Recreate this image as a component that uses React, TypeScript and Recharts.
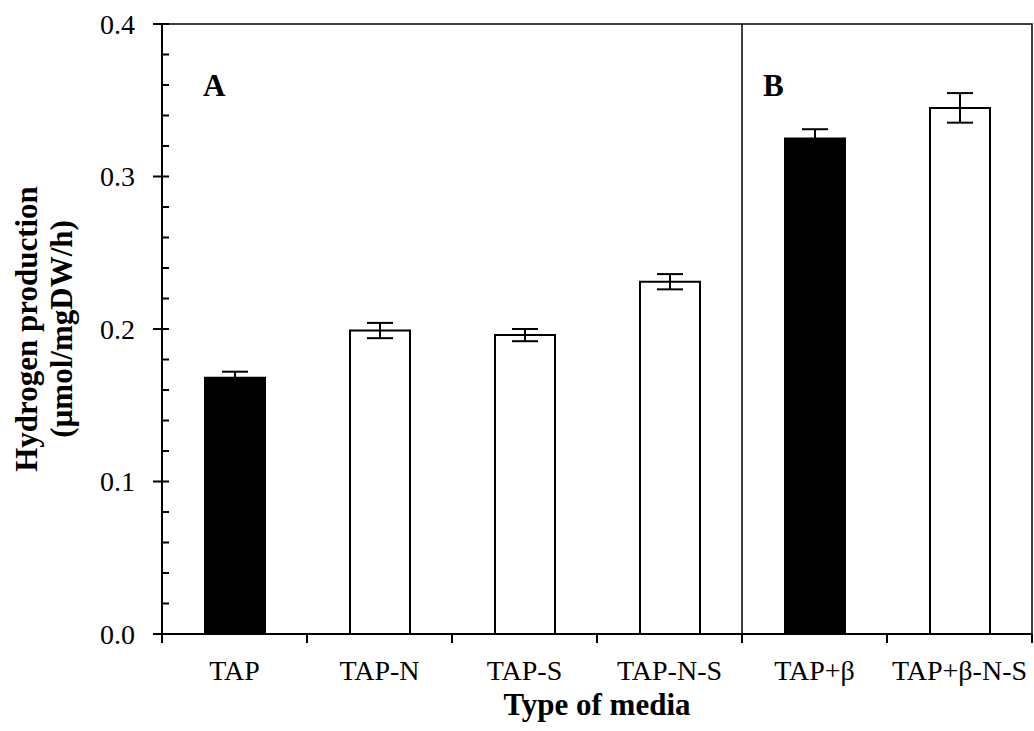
import React from 'react';
import { BarChart, Bar, Cell, XAxis, YAxis, ErrorBar, ReferenceLine, ReferenceArea } from 'recharts';

const categories = ['TAP', 'TAP-N', 'TAP-S', 'TAP-N-S', 'TAP+β', 'TAP+β-N-S'];
const production = [0.168, 0.199, 0.196, 0.231, 0.325, 0.345];
const errors = [0.004, 0.005, 0.004, 0.005, 0.006, 0.0097];
const yTicks = [0, 0.02, 0.04, 0.06, 0.08, 0.1, 0.12, 0.14, 0.16, 0.18, 0.2, 0.22, 0.24, 0.26, 0.28, 0.3, 0.32, 0.34, 0.36, 0.38, 0.4];
const darkBars = ['TAP', 'TAP+β'];

const W = 1034;
const H = 731;
const LEFT = 162;
const RIGHT = 2;
const TOP = 24;
const BOTTOM = 634;
const BAND = (W - LEFT - RIGHT) / categories.length;
const FONT = '"Liberation Serif", "Times New Roman", serif';

const data = categories.map((name, i) => ({ name, value: production[i], err: errors[i] }));

function YTick(props: any) {
  const { y, payload } = props;
  const v = payload.value as number;
  const major = Math.round(v * 100) % 10 === 0;
  return (
    <g>
      <line x1={major ? LEFT - 9 : LEFT} x2={LEFT + 7} y1={y} y2={y} stroke="#000" strokeWidth={2} />
      {major && (
        <text x={LEFT - 27} y={y} dy="0.35em" textAnchor="end" fontFamily={FONT} fontSize={28} fill="#000">
          {v.toFixed(1)}
        </text>
      )}
    </g>
  );
}

function XTick(props: any) {
  const { x, payload, index } = props;
  const last = index === categories.length - 1;
  return (
    <g>
      <line x1={x - BAND / 2} x2={x - BAND / 2} y1={BOTTOM} y2={BOTTOM + 9} stroke="#000" strokeWidth={2} />
      {last && <line x1={x + BAND / 2} x2={x + BAND / 2} y1={BOTTOM} y2={BOTTOM + 9} stroke="#000" strokeWidth={2} />}
      <text x={x} y={680} textAnchor="middle" fontFamily={FONT} fontSize={28} fill="#000">
        {payload.value}
      </text>
    </g>
  );
}

export default function App() {
  return (
    <div style={{ position: 'absolute', left: 0, top: 0, width: W, height: H, background: '#fff' }}>
      <BarChart width={W} height={H} data={data} margin={{ top: TOP, right: RIGHT, bottom: 0, left: 0 }} barCategoryGap={0}>
        <XAxis
          dataKey="name"
          height={H - BOTTOM}
          interval={0}
          tickLine={false}
          axisLine={{ stroke: '#000', strokeWidth: 2 }}
          tick={<XTick />}
        />
        <YAxis
          width={LEFT}
          domain={[0, 0.4]}
          ticks={yTicks}
          interval={0}
          tickLine={false}
          tickSize={0}
          axisLine={{ stroke: '#000', strokeWidth: 2 }}
          tick={<YTick />}
        />
        <ReferenceArea y1={0} y2={0.4} fill="none" stroke="#000" strokeWidth={1.5} fillOpacity={0} />
        <ReferenceLine x="TAP+β" position="start" stroke="#000" strokeWidth={1.5} />
        <Bar dataKey="value" barSize={60} stroke="#000" strokeWidth={2} isAnimationActive={false}>
          {data.map((d) => (
            <Cell key={d.name} fill={darkBars.includes(d.name) ? '#000' : '#fff'} />
          ))}
          <ErrorBar dataKey="err" width={13} stroke="#000" strokeWidth={2} isAnimationActive={false} />
        </Bar>
        <text x={203} y={96} fontFamily={FONT} fontSize={31} fontWeight="bold" fill="#000">A</text>
        <text x={763} y={96} fontFamily={FONT} fontSize={31} fontWeight="bold" fill="#000">B</text>
        <text x={(LEFT + W - RIGHT) / 2} y={715} textAnchor="middle" fontFamily={FONT} fontSize={31} fontWeight="bold" fill="#000">
          Type of media
        </text>
        <text transform={`translate(37, ${(TOP + BOTTOM) / 2}) rotate(-90)`} textAnchor="middle" fontFamily={FONT} fontSize={31} fontWeight="bold" fill="#000">
          Hydrogen production
        </text>
        <text transform={`translate(72, ${(TOP + BOTTOM) / 2}) rotate(-90)`} textAnchor="middle" fontFamily={FONT} fontSize={31} fontWeight="bold" fill="#000">
          (µmol/mgDW/h)
        </text>
      </BarChart>
    </div>
  );
}
